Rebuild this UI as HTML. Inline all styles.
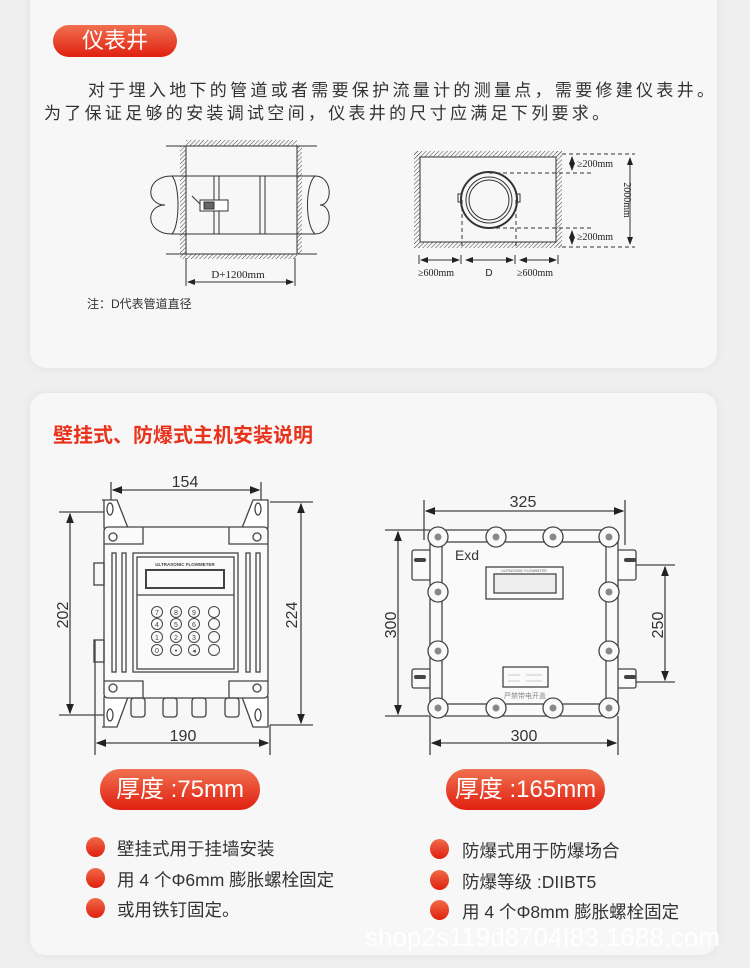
<!DOCTYPE html>
<html><head><meta charset="utf-8"><style>
body{margin:0;width:750px;height:968px;background:#efefef;position:relative;overflow:hidden;font-family:"Liberation Sans","Noto Sans CJK SC",sans-serif}
.card{position:absolute;left:30px;width:687px;background:#f7f7f7;border-radius:16px;box-shadow:0 0 10px rgba(0,0,0,.06)}
.pill{position:absolute;border-radius:20px;background:linear-gradient(#f07050,#e02010);color:#fff;text-align:center}
.t{position:absolute;color:#333;white-space:nowrap}
.dot{position:absolute;width:19px;height:20px;border-radius:50%;background:linear-gradient(#f06a48,#e0200f)}
svg{position:absolute;left:0;top:0}
</style></head><body>
<div class="card" style="top:-20px;height:388px"></div>
<div class="card" style="top:393px;height:562px"></div>
<div class="pill" style="left:53px;top:25px;width:124px;height:32px;line-height:32px;font-size:22px">仪表井</div>
<div class="t" style="left:88px;top:76px;font-size:17px;letter-spacing:3.3px">对于埋入地下的管道或者需要保护流量计的测量点，需要修建仪表井。</div>
<div class="t" style="left:44px;top:99px;font-size:17px;letter-spacing:3.3px">为了保证足够的安装调试空间，仪表井的尺寸应满足下列要求。</div>
<div class="t" style="left:87px;top:295px;font-size:12px">注：D代表管道直径</div>
<div class="t" style="left:53px;top:419px;font-size:20px;font-weight:bold;color:#e8321c">壁挂式、防爆式主机安装说明</div>
<div class="pill" style="left:100px;top:769px;width:160px;height:41px;line-height:41px;font-size:24px">厚度 :75mm</div>
<div class="pill" style="left:446px;top:769px;width:159px;height:41px;line-height:41px;font-size:24px">厚度 :165mm</div>
<div class="dot" style="left:86px;top:837px"></div><div class="t" style="left:117px;top:836px;font-size:17.5px">壁挂式用于挂墙安装</div>
<div class="dot" style="left:86px;top:868px"></div><div class="t" style="left:117px;top:867px;font-size:17.5px">用 4 个Φ6mm 膨胀螺栓固定</div>
<div class="dot" style="left:86px;top:898px"></div><div class="t" style="left:117px;top:897px;font-size:17.5px">或用铁钉固定。</div>
<div class="dot" style="left:430px;top:839px"></div><div class="t" style="left:462px;top:838px;font-size:17.5px">防爆式用于防爆场合</div>
<div class="dot" style="left:430px;top:870px"></div><div class="t" style="left:462px;top:869px;font-size:17.5px">防爆等级 :DIIBT5</div>
<div class="dot" style="left:430px;top:900px"></div><div class="t" style="left:462px;top:899px;font-size:17.5px">用 4 个Φ8mm 膨胀螺栓固定</div>
<div class="t" style="left:365px;top:922px;font-size:26px;color:#fff">shop2s119d8704f83.1688.com</div>

<svg width="750" height="968" viewBox="0 0 750 968" fill="none" stroke="#333" stroke-width="1">
<defs><pattern id="h" width="3" height="3" patternUnits="userSpaceOnUse" patternTransform="rotate(45)"><line x1="0" y1="0" x2="0" y2="3" stroke="#444" stroke-width="1"/></pattern>
<marker id="a" markerWidth="8" markerHeight="6" refX="7" refY="3" orient="auto-start-reverse"><path d="M0,0L8,3L0,6z" fill="#222" stroke="none"/></marker></defs>
<!-- left pit -->
<rect x="186" y="140" width="111" height="6" fill="url(#h)" stroke="none"/>
<rect x="180" y="146" width="6" height="108" fill="url(#h)" stroke="none"/>
<rect x="297" y="146" width="5" height="108" fill="url(#h)" stroke="none"/>
<rect x="180" y="254" width="117" height="5" fill="url(#h)" stroke="none"/>
<line x1="166" y1="146" x2="317" y2="146"/><line x1="166" y1="254" x2="317" y2="254"/>
<line x1="186" y1="146" x2="186" y2="254"/><line x1="297" y1="146" x2="297" y2="254"/>
<path d="M172,176H315M172,234H315"/>
<path d="M172,176C145,176 145,205 165,205C145,205 145,234 172,234"/>
<path d="M315,176C333,176 333,205 320,205C333,205 333,234 315,234"/>
<path d="M172,176C180,185 180,225 172,234M315,176C305,185 305,225 315,234"/>
<rect x="214" y="176" width="5" height="58"/><rect x="260" y="176" width="5" height="58"/>
<rect x="200" y="200" width="28" height="11" fill="#fff"/><path d="M192,196l8,8"/><rect x="204" y="202" width="10" height="7" fill="#666"/>
<line x1="186" y1="258" x2="186" y2="286"/><line x1="295" y1="258" x2="295" y2="286"/>
<line x1="188" y1="282" x2="293" y2="282" marker-start="url(#a)" marker-end="url(#a)"/>
<text x="238" y="278" font-size="11" fill="#222" stroke="none" text-anchor="middle" font-family="Liberation Serif">D+1200mm</text>
<!-- right pit -->
<rect x="414" y="151" width="148" height="6" fill="url(#h)" stroke="none"/>
<rect x="414" y="151" width="6" height="97" fill="url(#h)" stroke="none"/>
<rect x="556" y="151" width="6" height="97" fill="url(#h)" stroke="none"/>
<rect x="414" y="242" width="148" height="6" fill="url(#h)" stroke="none"/>
<rect x="420" y="157" width="136" height="85"/>
<circle cx="489" cy="200" r="28" stroke-width="2"/><circle cx="489" cy="200" r="23"/><circle cx="489" cy="200" r="20"/>
<rect x="458" y="194" width="3" height="8"/><rect x="517" y="194" width="3" height="8"/>
<g stroke-dasharray="4,3"><path d="M489,173H591M489,228H591M562,154H635M562,247H635M462,200V248M516,200V248"/></g>
<line x1="572" y1="157" x2="572" y2="170" marker-start="url(#a)" marker-end="url(#a)"/>
<line x1="572" y1="231" x2="572" y2="244" marker-start="url(#a)" marker-end="url(#a)"/>
<line x1="630" y1="158" x2="630" y2="244" marker-start="url(#a)" marker-end="url(#a)"/>
<g fill="#222" stroke="none" font-family="Liberation Serif" font-size="10">
<text x="577" y="167">≥200mm</text><text x="577" y="240">≥200mm</text>
<text transform="translate(624,200) rotate(90)" text-anchor="middle">2000mm</text>
<text x="418" y="276">≥600mm</text><text x="517" y="276">≥600mm</text>
<text x="489" y="276" font-family="Liberation Sans" text-anchor="middle">D</text></g>
<path d="M419,255V264M461,255V264M515,255V264M558,255V264"/>
<line x1="421" y1="260" x2="459" y2="260" marker-start="url(#a)" marker-end="url(#a)"/>
<line x1="466" y1="260" x2="513" y2="260" marker-start="url(#a)" marker-end="url(#a)"/>
<line x1="520" y1="260" x2="556" y2="260" marker-start="url(#a)" marker-end="url(#a)"/>
<!-- wall device -->
<g stroke="#444" stroke-width="1.3">
<path d="M111,482V510M261,482V510M270,502H313M270,725H313M59,512H110M59,715H110M95,640V755M270,725V755"/>
<line x1="113" y1="490" x2="259" y2="490" marker-start="url(#a)" marker-end="url(#a)"/>
<line x1="301" y1="504" x2="301" y2="723" marker-start="url(#a)" marker-end="url(#a)"/>
<line x1="70" y1="514" x2="70" y2="713" marker-start="url(#a)" marker-end="url(#a)"/>
<line x1="97" y1="743" x2="268" y2="743" marker-start="url(#a)" marker-end="url(#a)"/>
<path d="M102,500H117L128,528H104V500Z" fill="#fff"/><path d="M266,500H253L242,528H268V500Z" fill="#fff"/>
<path d="M102,727H117L128,697H104V727Z" fill="#fff"/><path d="M266,727H253L242,697H268V727Z" fill="#fff"/>
<rect x="104" y="527" width="164" height="171" rx="4" fill="#fafafa"/>
<path d="M104,544H143V527M268,544H229V527M104,681H143V698M268,681H229V698"/>
<ellipse cx="110" cy="509" rx="3" ry="6"/><ellipse cx="258" cy="509" rx="3" ry="6"/><ellipse cx="110" cy="715" rx="3" ry="6"/><ellipse cx="258" cy="715" rx="3" ry="6"/>
<circle cx="113" cy="537" r="4"/><circle cx="257" cy="537" r="4"/><circle cx="113" cy="688" r="4"/><circle cx="257" cy="688" r="4"/>
<rect x="112" y="553" width="4" height="119"/><rect x="122" y="553" width="4" height="119"/><rect x="246" y="553" width="4" height="119"/><rect x="256" y="553" width="4" height="119"/>
<rect x="133" y="553" width="105" height="119"/><rect x="137" y="557" width="97" height="112"/><path d="M137,595H234"/>
<rect x="146" y="570" width="78" height="18" stroke-width="2"/>
<rect x="94" y="563" width="10" height="22"/><rect x="94" y="640" width="10" height="22"/>
<rect x="131" y="698" width="14" height="19" rx="3"/><rect x="163" y="698" width="14" height="19" rx="3"/><rect x="192" y="698" width="14" height="19" rx="3"/><rect x="225" y="698" width="14" height="19" rx="3"/>
<g stroke-width="1">
<circle cx="157" cy="612" r="5.5"/><circle cx="176" cy="612" r="5.5"/><circle cx="194" cy="612" r="5.5"/><circle cx="214" cy="612" r="5.5"/>
<circle cx="157" cy="624" r="5.5"/><circle cx="176" cy="624" r="5.5"/><circle cx="194" cy="624" r="5.5"/><circle cx="214" cy="624" r="5.5"/>
<circle cx="157" cy="637" r="5.5"/><circle cx="176" cy="637" r="5.5"/><circle cx="194" cy="637" r="5.5"/><circle cx="214" cy="637" r="5.5"/>
<circle cx="157" cy="650" r="5.5"/><circle cx="176" cy="650" r="5.5"/><circle cx="194" cy="650" r="5.5"/><circle cx="214" cy="650" r="5.5"/></g>
</g>
<g fill="#444" stroke="none" font-size="7" text-anchor="middle">
<text x="157" y="615">7</text><text x="176" y="615">8</text><text x="194" y="615">9</text>
<text x="157" y="627">4</text><text x="176" y="627">5</text><text x="194" y="627">6</text>
<text x="157" y="640">1</text><text x="176" y="640">2</text><text x="194" y="640">3</text>
<text x="157" y="653">0</text><text x="176" y="653">•</text><text x="194" y="653">◂</text>
<text x="185" y="566" font-size="4.5" font-weight="bold">ULTRASONIC FLOWMETER</text></g>
<!-- exd device -->
<g stroke="#444" stroke-width="1.3">
<path d="M424,500V540M625,500V545M385,530H430M385,716H430M625,565H675M625,682H675M430,716V755M618,716V755"/>
<line x1="426" y1="511" x2="623" y2="511" marker-start="url(#a)" marker-end="url(#a)"/>
<line x1="398" y1="532" x2="398" y2="714" marker-start="url(#a)" marker-end="url(#a)"/>
<line x1="665" y1="567" x2="665" y2="680" marker-start="url(#a)" marker-end="url(#a)"/>
<line x1="432" y1="743" x2="616" y2="743" marker-start="url(#a)" marker-end="url(#a)"/>
<rect x="412" y="550" width="20" height="30" rx="2" fill="#fafafa"/><rect x="412" y="669" width="20" height="19" rx="2" fill="#fafafa"/>
<rect x="616" y="550" width="20" height="30" rx="2" fill="#fafafa"/><rect x="616" y="669" width="20" height="19" rx="2" fill="#fafafa"/>
<rect x="430" y="530" width="188" height="186" rx="4" fill="#fafafa"/>
<rect x="442" y="542" width="164" height="162"/>
<path d="M416,560h8M416,677h8M626,560h8M626,677h8" stroke-width="4" stroke-linecap="round"/>
<g fill="#fafafa">
<circle cx="438" cy="537" r="10"/><circle cx="496" cy="537" r="10"/><circle cx="553" cy="537" r="10"/><circle cx="609" cy="537" r="10"/>
<circle cx="438" cy="708" r="10"/><circle cx="496" cy="708" r="10"/><circle cx="553" cy="708" r="10"/><circle cx="609" cy="708" r="10"/>
<circle cx="438" cy="592" r="10"/><circle cx="438" cy="651" r="10"/><circle cx="609" cy="592" r="10"/><circle cx="609" cy="651" r="10"/></g>
<g fill="#888" stroke="none">
<circle cx="438" cy="537" r="3.5"/><circle cx="496" cy="537" r="3.5"/><circle cx="553" cy="537" r="3.5"/><circle cx="609" cy="537" r="3.5"/>
<circle cx="438" cy="708" r="3.5"/><circle cx="496" cy="708" r="3.5"/><circle cx="553" cy="708" r="3.5"/><circle cx="609" cy="708" r="3.5"/>
<circle cx="438" cy="592" r="3.5"/><circle cx="438" cy="651" r="3.5"/><circle cx="609" cy="592" r="3.5"/><circle cx="609" cy="651" r="3.5"/></g>
<rect x="486" y="567" width="77" height="32"/><rect x="494" y="574" width="62" height="19" fill="#eee"/>
<rect x="503" y="667" width="45" height="20"/>
<path d="M508,675h12M526,675h16M508,681h12M526,681h16" stroke-width="0.6" stroke="#999"/>
</g>
<g fill="#333" stroke="none" font-size="16" text-anchor="middle">
<text x="185" y="487">154</text><text x="183" y="741">190</text>
<text transform="translate(68,615) rotate(-90)">202</text><text transform="translate(297,615) rotate(-90)">224</text>
<text x="523" y="507">325</text><text x="524" y="741">300</text>
<text transform="translate(396,625) rotate(-90)">300</text><text transform="translate(663,625) rotate(-90)">250</text>
<text x="467" y="560" font-size="14">Exd</text>
<text x="525" y="698" font-size="7" fill="#888">严禁带电开盖</text>
<text x="524" y="572" font-size="3.5" fill="#666">ULTRASONIC FLOWMETER</text></g>
</svg>
</body></html>
